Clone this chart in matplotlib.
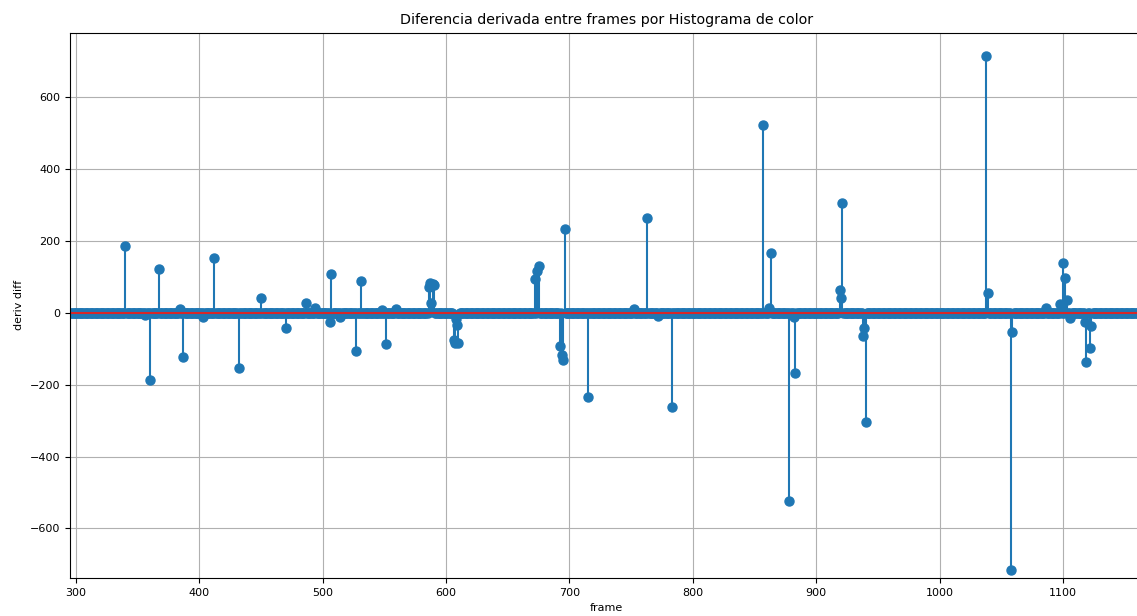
import numpy as np
import matplotlib.pyplot as plt

# frames shown in the window
frames = np.arange(296, 1166)

# frames where the derivative is clearly away from zero
spike_frames = [340, 356, 360, 367, 384, 387, 403, 412, 432, 450, 470, 486, 494,
                506, 507, 514, 527, 531, 548, 551, 559,
                586, 587, 588, 589, 590, 606, 607, 608, 609, 610,
                672, 674, 675, 692, 694, 695, 696, 715, 752, 763, 772, 783,
                857, 862, 863, 878, 882, 883, 919, 920, 921, 938, 939, 940,
                1038, 1039, 1058, 1059, 1086, 1098, 1100, 1102, 1103, 1106,
                1118, 1119, 1122, 1123]
spike_values = [186, -5, -187, 122, 10, -122, -11, 153, -153, 42, -43, 28, 12,
                -27, 107, -11, -106, 88, 8, -87, 10,
                73, 84, 26, 80, 78, -76, -83, -18, -33, -83,
                93, 117, 130, -92, -117, -131, 232, -235, 10, 263, -8, -261,
                523, 12, 165, -525, -12, -168, 63, 42, 305, -64, -43, -305,
                714, 55, -715, -53, 13, 25, 138, 98, 36, -14,
                -25, -137, -98, -36]

deriv = np.zeros(len(frames))
for f, v in zip(spike_frames, spike_values):
    deriv[f - frames[0]] = v

fig = plt.figure(figsize=(11.37, 6.16), dpi=100)
ax = fig.add_axes([0.0616, 0.0617, 0.943, 0.885])

markerline, stemlines, baseline = ax.stem(frames, deriv)
markerline.set_markersize(6.5)
ax.set_xlim(295.1, 1164.3)
ax.set_ylim(-738, 779)
ax.set_yticks([-600, -400, -200, 0, 200, 400, 600])
ax.set_xticks([300, 400, 500, 600, 700, 800, 900, 1000, 1100])
ax.tick_params(labelsize=8)
ax.grid(True)

ax.set_title('Diferencia derivada entre frames por Histograma de color', fontsize=10.3)
ax.set_xlabel('frame', fontsize=8)
ax.set_ylabel('deriv diff', fontsize=8)

fig.savefig('out.png', dpi=100)
